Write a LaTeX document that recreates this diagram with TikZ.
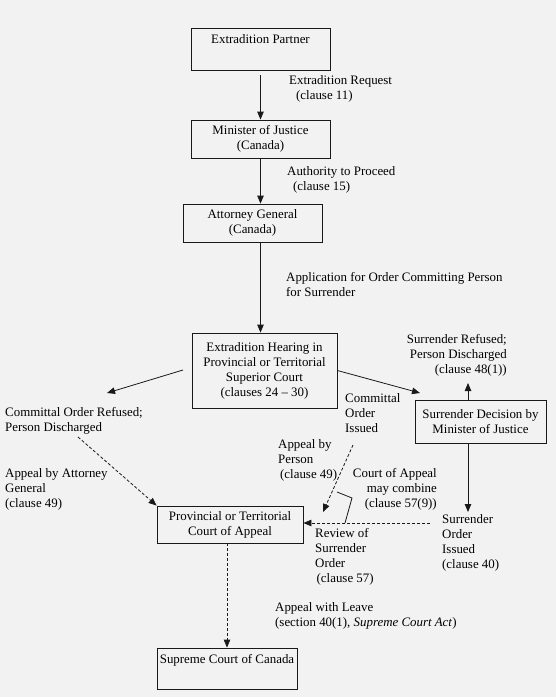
\documentclass[tikz,border=0pt]{standalone}
\usepackage{fontspec}
\setmainfont{Liberation Serif}
\usetikzlibrary{arrows.meta}
\begin{document}
\begin{tikzpicture}[x=1pt,y=-1pt,
  font=\fontsize{12.9}{15}\selectfont,
  every node/.style={text=black},
  box/.style={draw=black!90, line width=0.8pt, align=center, inner sep=0pt, fill=black!5},
  lbl/.style={inner sep=0pt, align=left, anchor=north west},
  lblr/.style={inner sep=0pt, align=right, anchor=north east},
  arr/.style={draw=black!90, line width=0.8pt, -{Triangle[length=8pt,width=6.5pt]}},
  darr/.style={arr, dash pattern=on 3pt off 2pt},
  link/.style={draw=black!90, line width=0.8pt}]
\fill[black!5] (0,0) rectangle (556,697);
\useasboundingbox (0,0) rectangle (556,697);
% boxes
\node[box, minimum width=139pt, minimum height=42pt] (ep) at (260.5,49) {Extradition Partner\\ \strut};
\node[box, minimum width=139pt, minimum height=38pt] (mj) at (260.5,139) {Minister of Justice\\(Canada)};
\node[box, minimum width=139pt, minimum height=38pt] (ag) at (252.5,223) {Attorney General\\(Canada)};
\node[box, minimum width=145pt, minimum height=75pt] (hear) at (264.5,370.5) {Extradition Hearing in\\Provincial or Territorial\\Superior Court\\(clauses 24 -- 30)};
\node[box, minimum width=131pt, minimum height=43pt] (sd) at (480.5,421.5) {Surrender Decision by\\Minister of Justice};
\node[box, minimum width=146pt, minimum height=37pt] (coa) at (230,524.5) {Provincial or Territorial\\Court of Appeal};
\node[box, minimum width=140pt, minimum height=41pt] (sc) at (227,668.5) {Supreme Court of Canada\\ \strut};
% labels
\node[lbl] (t1) at (289,75.5) {Extradition Request\\\hspace*{7pt}(clause 11)};
\node[lbl] (t2) at (287,166.5) {Authority to Proceed\\\hspace*{6pt}(clause 15)};
\node[lbl] (t3) at (286,272.5) {Application for Order Committing Person\\for Surrender};
\node[lblr] (t4) at (507,334) {Surrender Refused;\\Person Discharged\\(clause 48(1))};
\node[lbl] (cor) at (5,407.5) {Committal Order Refused;\\Person Discharged};
\node[lbl] (t6) at (5,468.5) {Appeal by Attorney\\General\\(clause 49)};
\node[lbl] (coi) at (345,393.5) {Committal\\Order\\Issued};
\node[lbl] (t8) at (278,439.5) {Appeal by\\Person\\\hspace*{2pt}(clause 49)};
\node[lblr] (t9) at (437,468.5) {Court of Appeal\\may combine\\(clause 57(9))};
\node[lbl] (soi) at (442,514.5) {Surrender\\Order\\Issued\\(clause 40)};
\node[lbl] (t11) at (315,528.5) {Review of\\Surrender\\Order\\\hspace*{1.5pt}(clause 57)};
\node[lbl] (t12) at (275,602.5) {Appeal with Leave\\(section 40(1), \textit{Supreme Court Act})};
% coordinates
\coordinate (hl) at (183,370);
\coordinate (corTip) at (107,393);
\coordinate (sdTip) at (420,393);
\coordinate (sdUp) at (468,400);
\coordinate (srTip) at (468,383);
\coordinate (sdDn) at (468,443);
\coordinate (soiTip) at (468,512);
\coordinate (coiStart) at (353,445);
\coordinate (coiTip) at (323,512);
\coordinate (soiStart) at (430,523);
\coordinate (corStart) at (78,437);
\coordinate (b1) at (337,492);
\coordinate (b2) at (352,498);
\coordinate (b3) at (345,523);
% connectors
\draw[arr, shorten <=5pt] (ep.south) -- (mj.north);
\draw[arr] (mj.south) -- (mj.south |- ag.north);
\draw[arr] (mj.south |- ag.south) -- (mj.south |- hear.north);
\draw[arr] (hl) -- (corTip);
\draw[arr] (hear.east) -- (sdTip);
\draw[arr] (sdUp) -- (srTip);
\draw[arr] (sdDn) -- (soiTip);
\draw[darr] (coiStart) -- (coiTip);
\draw[darr] (soiStart) -- (soiStart -| coa.east);
\draw[darr] (corStart) -- (coa.north west);
\draw[darr] (sc.north |- coa.south) -- (sc.north);
\draw[link] (b1) -- (b2) -- (b3);
\end{tikzpicture}
\end{document}
